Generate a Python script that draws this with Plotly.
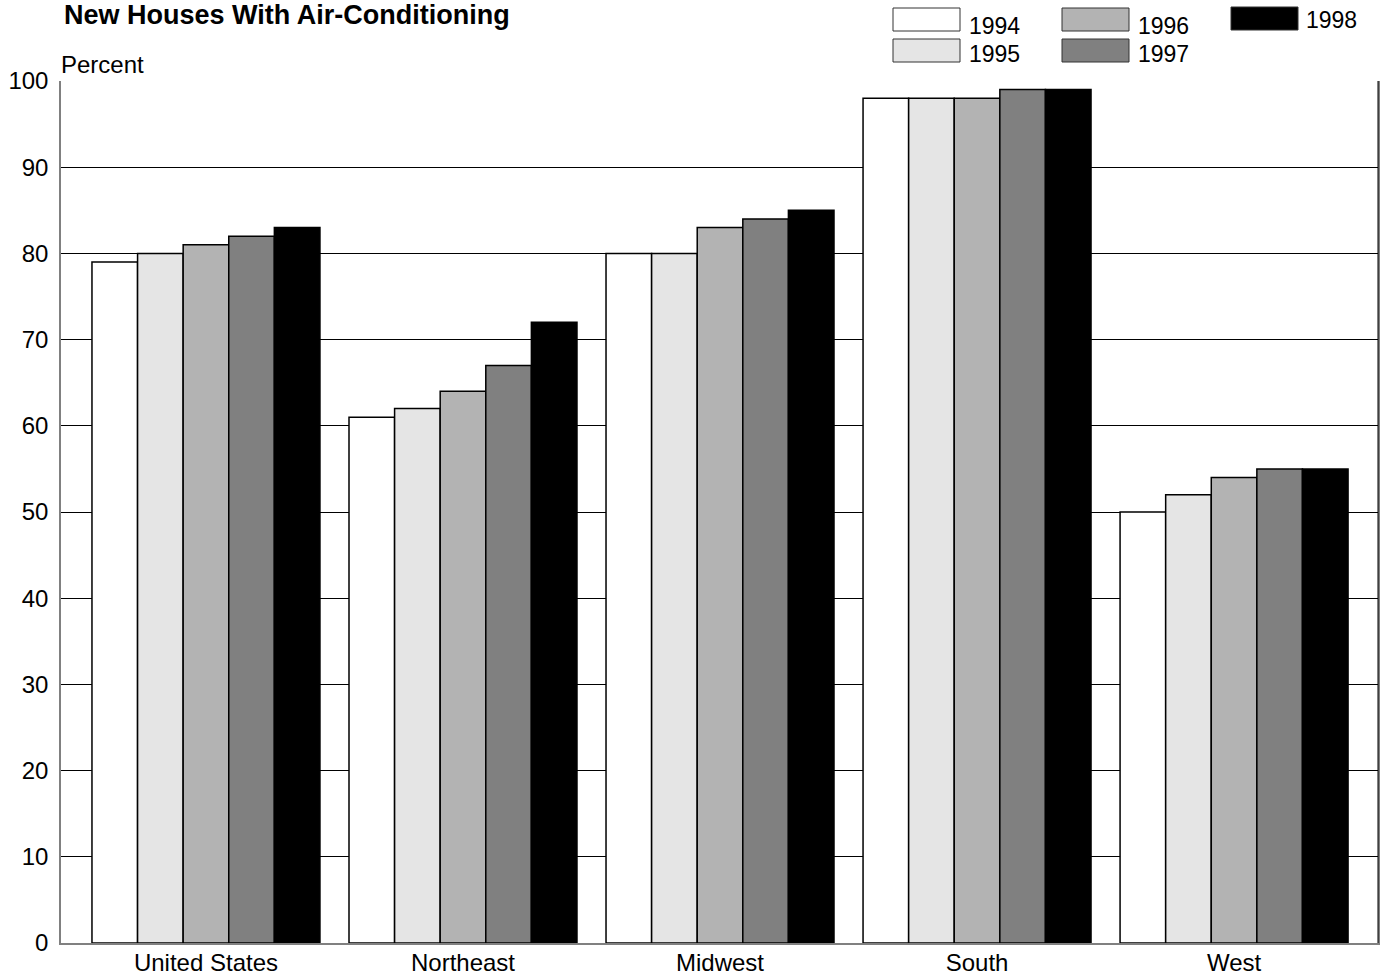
import plotly.graph_objects as go

regions = ["United States", "Northeast", "Midwest", "South", "West"]
years = ["1994", "1995", "1996", "1997", "1998"]
v1994 = [79, 61, 80, 98, 50]
v1995 = [80, 62, 80, 98, 52]
v1996 = [81, 64, 83, 98, 54]
v1997 = [82, 67, 84, 99, 55]
v1998 = [83, 72, 85, 99, 55]
series = [v1994, v1995, v1996, v1997, v1998]
colors = ["#ffffff", "#e5e5e5", "#b3b3b3", "#808080", "#000000"]
yticks = [0, 10, 20, 30, 40, 50, 60, 70, 80, 90, 100]

W, H = 1384, 979
L, R, T, B = 61, 6, 81, 36
FONT = "Liberation Sans, Arial, Helvetica, sans-serif"

def px(x):
    return (x - L) / (W - L - R)

def py(y):
    return (H - B - y) / (H - T - B)

fig = go.Figure()
for name, vals, c in zip(years, series, colors):
    fig.add_trace(go.Bar(
        x=list(range(len(regions))), y=vals, name=name,
        marker=dict(color=c, line=dict(color="black", width=1.5)),
        showlegend=False, hoverinfo="skip",
    ))

shapes = []
annotations = []
# manual legend
legend_pos = [
    (893, 8, 967, 26),
    (893, 39, 967, 54),
    (1062, 8, 1136, 26),
    (1062, 39, 1136, 54),
    (1231, 7, 1304, 20),
]
for (bx, by, tx, ty), name, c in zip(legend_pos, years, colors):
    shapes.append(dict(type="rect", xref="paper", yref="paper",
                       x0=px(bx), x1=px(bx + 67), y0=py(by + 23), y1=py(by),
                       fillcolor=c, line=dict(color="#333333", width=1)))
    annotations.append(dict(text=name, xref="paper", yref="paper",
                            x=px(tx), y=py(ty), xanchor="left", yanchor="middle",
                            showarrow=False, font=dict(size=23, color="black", family=FONT)))

annotations.append(dict(text="<b>New Houses With Air-Conditioning</b>", xref="paper", yref="paper",
                        x=px(62), y=py(15), xanchor="left", yanchor="middle", showarrow=False,
                        font=dict(size=27, color="black", family=FONT)))
annotations.append(dict(text="Percent", xref="paper", yref="paper",
                        x=px(59), y=py(64), xanchor="left", yanchor="middle", showarrow=False,
                        font=dict(size=24, color="black", family=FONT)))

fig.update_layout(
    width=W, height=H,
    margin=dict(l=L, r=R, t=T, b=B, pad=0, autoexpand=False),
    barmode="group", bargap=0.113, bargroupgap=0,
    plot_bgcolor="white", paper_bgcolor="white",
    font=dict(family=FONT, size=24, color="black"),
    shapes=shapes, annotations=annotations,
    xaxis=dict(
        tickmode="array", tickvals=list(range(len(regions))), ticktext=regions,
        range=[-0.564, 4.560], showgrid=False, zeroline=False, automargin=False,
        showline=True, linecolor="#808080", linewidth=1.5, mirror=False,
        ticks="", ticklabelstandoff=-3, tickfont=dict(size=24, family=FONT, color="black"),
    ),
    yaxis=dict(
        range=[0, 100], tickvals=yticks, showgrid=True, gridcolor="black", gridwidth=1,
        zeroline=False, showline=True, linecolor="#808080", linewidth=1.5, mirror=True,
        automargin=False,
        ticks="", ticklabelstandoff=6, tickfont=dict(size=24, family=FONT, color="black"),
    ),
)
# right border line
fig.add_shape(type="line", xref="paper", yref="paper", x0=1, x1=1, y0=0, y1=1,
              line=dict(color="black", width=1))

fig.write_html("out.html", config={"displayModeBar": False},
               post_script="document.body.style.margin='0';document.body.style.overflow='hidden';")
